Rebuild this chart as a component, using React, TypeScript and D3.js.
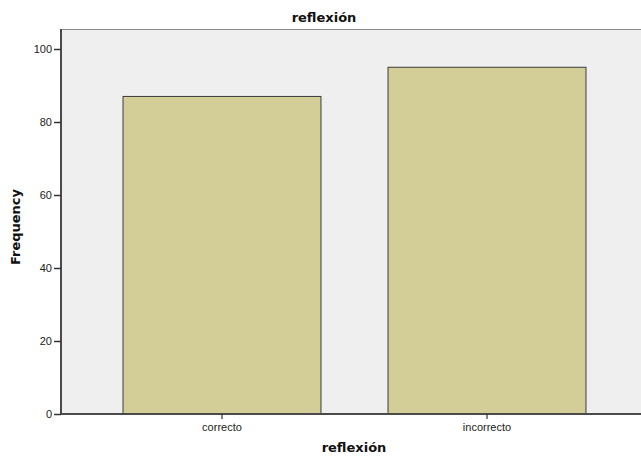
import React, { useEffect, useRef } from "react";
import * as d3 from "d3";

const categories = ["correcto", "incorrecto"];
const frequencies = [87, 95];
const yTicks = [0, 20, 40, 60, 80, 100];
const chartTitle = "reflexión";
const xTitle = "reflexión";
const yTitle = "Frequency";

const width = 641;
const height = 457;
const marginLeft = 61;
const marginTop = 29;
const plotBottom = 414;

export default function App() {
  const svgRef = useRef<SVGSVGElement>(null);

  useEffect(() => {
    const svg = d3.select(svgRef.current);
    svg.selectAll("*").remove();

    const x = d3.scaleBand()
      .domain(categories)
      .range([marginLeft, 648])
      .paddingInner(0.253)
      .paddingOuter(0.234);

    const y = d3.scaleLinear()
      .domain([0, 100])
      .range([plotBottom, plotBottom - 365]);

    // plot background
    svg.append("rect")
      .attr("x", marginLeft)
      .attr("y", marginTop)
      .attr("width", width - marginLeft)
      .attr("height", plotBottom - marginTop)
      .attr("fill", "#efefef");

    // top border
    svg.append("line")
      .attr("x1", marginLeft)
      .attr("x2", width)
      .attr("y1", marginTop + 0.5)
      .attr("y2", marginTop + 0.5)
      .attr("stroke", "#8a8a8a")
      .attr("stroke-width", 1.2);

    // bars
    svg.append("g")
      .selectAll("rect")
      .data(categories)
      .join("rect")
      .attr("x", (d) => x(d)!)
      .attr("y", (d, i) => y(frequencies[i]))
      .attr("width", x.bandwidth())
      .attr("height", (d, i) => y(0) - y(frequencies[i]))
      .attr("fill", "#d3ce98")
      .attr("stroke", "#3c3c3c")
      .attr("stroke-width", 1);

    // y axis
    const yAxis = svg.append("g")
      .attr("transform", `translate(${marginLeft}, 0)`)
      .call(d3.axisLeft(y).tickValues(yTicks).tickSize(7).tickSizeOuter(0).tickPadding(2));
    yAxis.select(".domain")
      .attr("d", `M0,${marginTop}V${plotBottom}`)
      .attr("stroke", "#4a4a4a")
      .attr("stroke-width", 2);
    yAxis.selectAll(".tick line").attr("stroke", "#333").attr("stroke-width", 1.5);
    yAxis.selectAll(".tick text")
      .attr("font-family", "Liberation Sans, Arial, sans-serif")
      .attr("font-size", 11)
      .attr("fill", "#222");

    // x axis
    const xAxis = svg.append("g")
      .attr("transform", `translate(0, ${plotBottom})`)
      .call(d3.axisBottom(x).tickSize(5).tickSizeOuter(0).tickPadding(4));
    xAxis.select(".domain")
      .attr("d", `M${marginLeft},0H${width}`)
      .attr("stroke", "#4a4a4a")
      .attr("stroke-width", 2);
    xAxis.selectAll(".tick line").attr("stroke", "#333").attr("stroke-width", 1.2);
    xAxis.selectAll(".tick text")
      .attr("font-family", "Liberation Sans, Arial, sans-serif")
      .attr("font-size", 11)
      .attr("fill", "#222");

    // titles
    svg.append("text")
      .attr("x", 324)
      .attr("y", 22)
      .attr("text-anchor", "middle")
      .attr("font-family", "DejaVu Sans, sans-serif")
      .attr("font-weight", "bold")
      .attr("font-size", 13)
      .attr("fill", "#111")
      .text(chartTitle);

    svg.append("text")
      .attr("x", 354)
      .attr("y", 452)
      .attr("text-anchor", "middle")
      .attr("font-family", "DejaVu Sans, sans-serif")
      .attr("font-weight", "bold")
      .attr("font-size", 13)
      .attr("fill", "#111")
      .text(xTitle);

    svg.append("text")
      .attr("transform", "translate(19.5, 227) rotate(-90)")
      .attr("text-anchor", "middle")
      .attr("font-family", "DejaVu Sans, sans-serif")
      .attr("font-weight", "bold")
      .attr("font-size", 13)
      .attr("fill", "#111")
      .text(yTitle);
  }, []);

  return (
    <svg
      ref={svgRef}
      width={width}
      height={height}
      style={{ position: "absolute", left: 0, top: 0, background: "#fff" }}
    />
  );
}
